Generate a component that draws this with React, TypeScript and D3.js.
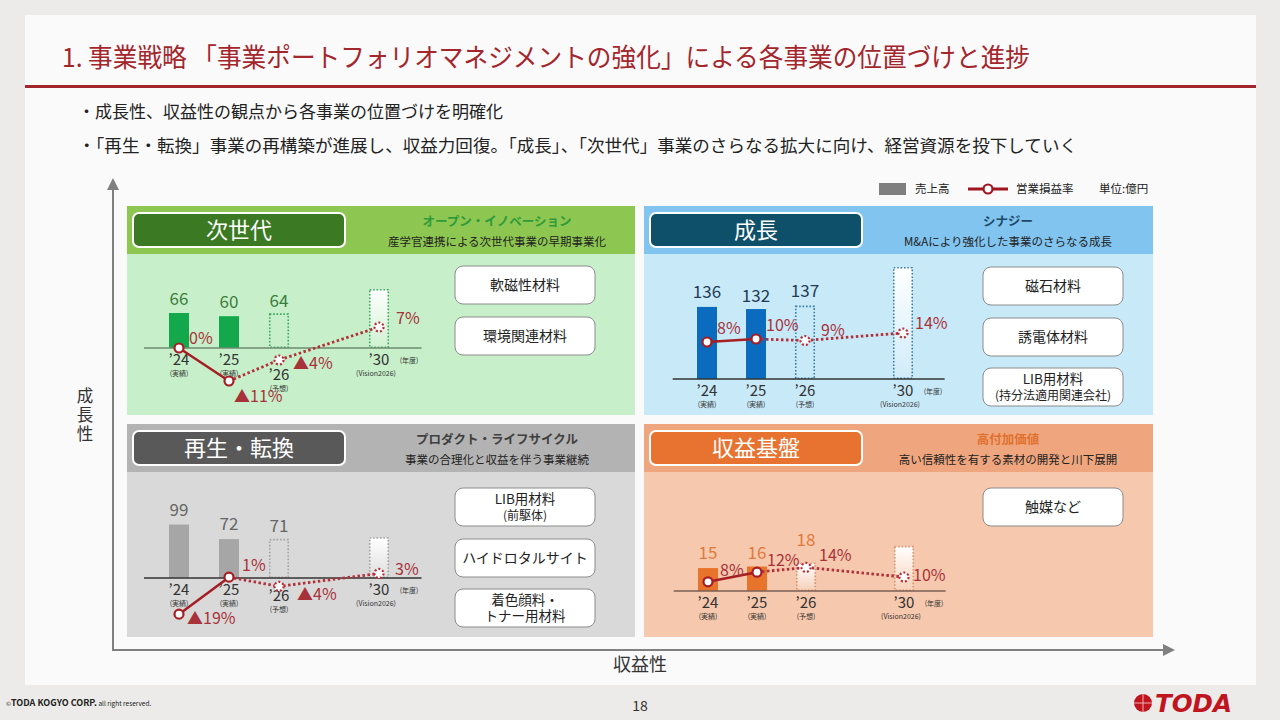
import React from 'react';
import * as d3 from 'd3';

const FONT = '"Noto Sans CJK JP", "Noto Sans", sans-serif';

// categories
const YEARS = ['’24', '’25', '’26', '’30'];
const YEAR_NOTES = ['(実績)', '(実績)', '(予想)', '(Vision2026)'];
const YEAR_SLOTS = [0, 1, 2, 4];

// 売上高 (億円) / 営業損益率 (%) ; '30 sales are unlabeled target bars
const NEXTGEN_SALES = [66, 60, 64, 110];
const NEXTGEN_RATES = [0, -11, -4, 7];
const GROWTH_SALES = [136, 132, 137, 210];
const GROWTH_RATES = [8, 10, 9, 14];
const REGEN_SALES = [99, 72, 71, 74];
const REGEN_RATES = [-19, 1, -4, 3];
const BASE_SALES = [15, 16, 18, 29];
const BASE_RATES = [8, 12, 14, 10];

const NEXTGEN_PRODUCTS = [['軟磁性材料'], ['環境関連材料']];
const GROWTH_PRODUCTS = [['磁石材料'], ['誘電体材料'], ['LIB用材料', '(持分法適用関連会社)']];
const REGEN_PRODUCTS = [['LIB用材料', '(前駆体)'], ['ハイドロタルサイト'], ['着色顔料・', 'トナー用材料']];
const BASE_PRODUCTS = [['触媒など']];

const panels = [
  {
    key: 'next', x: 127, y: 206, w: 508, h: 209,
    headerFill: '#8dc751', bodyFill: '#c7efc9', pillFill: '#3b7a23',
    title: '次世代', sub: 'オープン・イノベーション', subColor: '#2f9a3a',
    desc: '産学官連携による次世代事業の早期事業化',
    products: NEXTGEN_PRODUCTS, productTops: [266, 317],
    sales: NEXTGEN_SALES, rates: NEXTGEN_RATES,
    barFill: '#12a84b', dotColor: '#3aa860', valueColor: '#3c7d3c', baseColor: '#6f8a70',
    baseline: 348, firstX: 179, step: 50, salesPx: 0.53, rateZero: 348, ratePx: 3.0,
    labelOff: [[10, -4], [5, 21], [14, 9], [17, -3]],
    valueLift: [8, 8, 7], yearShift: [0, 0, 15, 0], fill26: false,
  },
  {
    key: 'growth', x: 644, y: 206, w: 509, h: 209,
    headerFill: '#80c4ef', bodyFill: '#c8e9f8', pillFill: '#0e4f69',
    title: '成長', sub: 'シナジー', subColor: '#1d4a68',
    desc: 'M&Aにより強化した事業のさらなる成長',
    products: GROWTH_PRODUCTS, productTops: [267, 318, 368],
    sales: GROWTH_SALES, rates: GROWTH_RATES,
    barFill: '#0b6bbf', dotColor: '#3a7fa3', valueColor: '#1f3b56', baseColor: '#333',
    baseline: 379, firstX: 707, step: 49, salesPx: 0.53, rateZero: 354, ratePx: 1.5,
    labelOff: [[10, -8], [10, -8], [16, -5], [12, -4]],
    valueLift: [9, 7, 9], yearShift: [0, 0, 0, 0], fill26: false,
  },
  {
    key: 'regen', x: 127, y: 424, w: 508, h: 213,
    headerFill: '#b3b3b3', bodyFill: '#d9d9d9', pillFill: '#595959',
    title: '再生・転換', sub: 'プロダクト・ライフサイクル', subColor: '#404040',
    desc: '事業の合理化と収益を伴う事業継続',
    products: REGEN_PRODUCTS, productTops: [488, 539, 589],
    sales: REGEN_SALES, rates: REGEN_RATES,
    barFill: '#a6a6a6', dotColor: '#a3a3a3', valueColor: '#666', baseColor: '#333',
    baseline: 578, firstX: 179, step: 50, salesPx: 0.54, rateZero: 579, ratePx: 1.85,
    labelOff: [[8, 10], [13, -6], [18, 14], [16, 2]],
    valueLift: [9, 9, 8], yearShift: [0, 0, 6, 0], fill26: false,
  },
  {
    key: 'base', x: 644, y: 424, w: 509, h: 213,
    headerFill: '#efa67e', bodyFill: '#f6c8ad', pillFill: '#e8722f',
    title: '収益基盤', sub: '高付加価値', subColor: '#e0702d',
    desc: '高い信頼性を有する素材の開発と川下展開',
    products: BASE_PRODUCTS, productTops: [488],
    sales: BASE_SALES, rates: BASE_RATES,
    barFill: '#e8742c', dotColor: '#d9926f', valueColor: '#e07a3c', baseColor: '#7a6055',
    baseline: 591, firstX: 708, step: 49, salesPx: 1.53, rateZero: 601, ratePx: 2.4,
    labelOff: [[12, -6], [10, -6], [13, -6], [9, 4]],
    valueLift: [9, 8, 17], yearShift: [0, 0, 0, 0], fill26: true,
  },
];

const RED = '#a51e24';
const LABEL_RED = '#a8323a';

const fmtRate = (v: number) => (v < 0 ? `▲${-v}%` : `${v}%`);

function Panel({ p }: { p: any }) {
  const xs = d3.scaleLinear().domain([0, 1]).range([p.firstX, p.firstX + p.step]);
  const ys = d3.scaleLinear().domain([0, 100]).range([p.baseline, p.baseline - 100 * p.salesPx]);
  const yr = d3.scaleLinear().domain([0, 10]).range([p.rateZero, p.rateZero - 10 * p.ratePx]);
  const barW = 20;
  const pts: [number, number][] = p.rates.map((r: number, i: number) => [xs(YEAR_SLOTS[i]), yr(r)]);
  const line = d3.line();
  const leftSide = p.x < 400;
  const prodX = p.x + (leftSide ? 328 : 339);
  const descCx = p.x + (leftSide ? 370 : 364);
  const gradId = `fade-${p.key}`;

  return (
    <g>
      <defs>
        <linearGradient id={gradId} x1="0" y1="0" x2="0" y2="1">
          <stop offset="0%" stopColor="#fff" stopOpacity={1} />
          <stop offset="100%" stopColor="#fff" stopOpacity={0.15} />
        </linearGradient>
      </defs>
      <rect x={p.x} y={p.y} width={p.w} height={p.h} fill={p.bodyFill} />
      <rect x={p.x} y={p.y} width={p.w} height={48} fill={p.headerFill} />
      <rect x={p.x + 6} y={p.y + 7} width={212} height={34} rx={6} fill={p.pillFill} stroke="#fff" strokeWidth={2} />
      <text x={p.x + 112} y={p.y + 32} textAnchor="middle" fill="#fff" fontSize={22} fontFamily={FONT}>{p.title}</text>
      <text x={descCx} y={p.y + 20} textAnchor="middle" fill={p.subColor} fontSize={12.5} fontWeight={700} fontFamily={FONT}>{p.sub}</text>
      <text x={descCx} y={p.y + 40} textAnchor="middle" fill="#222" fontSize={11.5} fontFamily={FONT}>{p.desc}</text>

      {p.products.map((lines: string[], i: number) => {
        const top = p.productTops[i];
        const cy = top + 19;
        return (
          <g key={i}>
            <rect x={prodX} y={top} width={140} height={38} rx={8} fill="#fff" stroke="#8c8c8c" strokeWidth={1} />
            {lines.length === 1 ? (
              <text x={prodX + 70} y={cy + 5} textAnchor="middle" fontSize={14} fill="#222" fontFamily={FONT}>{lines[0]}</text>
            ) : (
              <>
                <text x={prodX + 70} y={cy - 3} textAnchor="middle" fontSize={13.5} fill="#222" fontFamily={FONT}>{lines[0]}</text>
                <text x={prodX + 70} y={cy + 13} textAnchor="middle" fontSize={lines[1].startsWith('(') ? 12 : 13.5} fill="#222" fontFamily={FONT}>{lines[1]}</text>
              </>
            )}
          </g>
        );
      })}

      {/* bars */}
      {p.sales.map((v: number, i: number) => {
        const cx = xs(YEAR_SLOTS[i]);
        const top = ys(v);
        const h = p.baseline - top;
        if (i < 2) {
          return <rect key={i} x={cx - barW / 2} y={top} width={barW} height={h} fill={p.barFill} />;
        }
        const fill = i === 3 || p.fill26 ? `url(#${gradId})` : 'none';
        return (
          <rect key={i} x={cx - barW / 2 + 0.75} y={top} width={barW - 1.5} height={h - 0.75}
            fill={fill} stroke={p.dotColor} strokeWidth={1.6} strokeDasharray="1.6,1.8" />
        );
      })}
      {p.sales.slice(0, 3).map((v: number, i: number) => (
        <text key={i} x={xs(YEAR_SLOTS[i])} y={ys(v) - p.valueLift[i]} textAnchor="middle" fontSize={17}
          fill={p.valueColor} fontFamily={FONT}>{v}</text>
      ))}

      <line x1={xs(-0.7)} x2={xs(4.85)} y1={p.baseline} y2={p.baseline} stroke={p.baseColor} strokeWidth={1.5} />

      {/* year labels */}
      {YEARS.map((yl, i) => {
        const cx = xs(YEAR_SLOTS[i]);
        const by = p.baseline + 17 + p.yearShift[i];
        return (
          <g key={yl}>
            <text x={cx} y={by} textAnchor="middle" fontSize={15} fill="#333" fontFamily={FONT}>{yl}</text>
            <text x={i === 3 ? cx - 3 : cx} y={by + 11} textAnchor="middle" fontSize={7} fill="#333" fontFamily={FONT}>{YEAR_NOTES[i]}</text>
            {i === 3 && (
              <text x={cx + 30} y={by - 2} textAnchor="middle" fontSize={7} fill="#333" fontFamily={FONT}>(年度)</text>
            )}
          </g>
        );
      })}

      {/* operating margin line */}
      <path d={line(pts.slice(0, 2)) || ''} fill="none" stroke={RED} strokeWidth={2.5} />
      <path d={line(pts.slice(1)) || ''} fill="none" stroke="#b2303a" strokeWidth={2.8} strokeDasharray="2.5,2.5" />
      {pts.map(([px, py], i) => (
        <circle key={i} cx={px} cy={py} r={4.5} fill="#fff" stroke={i < 2 ? RED : '#b2303a'}
          strokeWidth={2.2} strokeDasharray={i < 2 ? undefined : '2,2'} />
      ))}
      {p.rates.map((r: number, i: number) => (
        <text key={i} x={pts[i][0] + p.labelOff[i][0]} y={pts[i][1] + p.labelOff[i][1]} fontSize={16}
          fill={LABEL_RED} fontFamily={FONT}>{fmtRate(r)}</text>
      ))}
    </g>
  );
}

export default function App() {
  return (
    <svg width={1280} height={720} viewBox="0 0 1280 720"
      style={{ position: 'absolute', left: 0, top: 0, display: 'block' }} fontFamily={FONT}>
      <rect width={1280} height={720} fill="#ecebe9" />
      <rect x={25} y={15} width={1231} height={670} fill="#fafafa" />

      <text x={62} y={67} fontSize={26} fill="#a3262d" textLength={968} lengthAdjust="spacingAndGlyphs">
        1. 事業戦略 「事業ポートフォリオマネジメントの強化」による各事業の位置づけと進捗
      </text>
      <rect x={25} y={85} width={1231} height={3} fill="#a3262d" />

      <text x={78} y={118} fontSize={17} fill="#222">・成長性、収益性の観点から各事業の位置づけを明確化</text>
      <text x={78} y={152} fontSize={17} fill="#222" textLength={999} lengthAdjust="spacingAndGlyphs">
        ・「再生・転換」事業の再構築が進展し、収益力回復。「成長」、「次世代」事業のさらなる拡大に向け、経営資源を投下していく
      </text>

      {/* legend */}
      <rect x={879} y={183} width={27} height={12} fill="#7f7f7f" />
      <text x={915} y={193} fontSize={11.5} fill="#222">売上高</text>
      <line x1={968} x2={1008} y1={189} y2={189} stroke="#a0141e" strokeWidth={3} />
      <circle cx={988} cy={189} r={4.5} fill="#fff" stroke="#a0141e" strokeWidth={2.2} />
      <text x={1016} y={193} fontSize={11.5} fill="#222">営業損益率</text>
      <text x={1099} y={193} fontSize={11.5} fill="#222">単位:億円</text>

      {/* axes */}
      <line x1={113} y1={650} x2={113} y2={188} stroke="#808080" strokeWidth={2} />
      <path d="M107,190 L113,178 L119,190 Z" fill="#808080" />
      <line x1={112} y1={650} x2={1165} y2={650} stroke="#808080" strokeWidth={2} />
      <path d="M1163,644 L1175,650 L1163,656 Z" fill="#808080" />
      <text x={85} y={402} fontSize={16.5} fill="#333" textAnchor="middle">成</text>
      <text x={85} y={421} fontSize={16.5} fill="#333" textAnchor="middle">長</text>
      <text x={85} y={440} fontSize={16.5} fill="#333" textAnchor="middle">性</text>
      <text x={640} y={671} fontSize={18} fill="#333" textAnchor="middle">収益性</text>

      {panels.map(p => <Panel key={p.key} p={p} />)}

      {/* footer */}
      <text x={6} y={706} fontSize={9} fill="#222">
        <tspan fontSize={6}>©</tspan>
        <tspan fontWeight={700}>TODA KOGYO CORP.</tspan>
        <tspan fontSize={6.5}> all right reserved.</tspan>
      </text>
      <text x={640} y={711} fontSize={14} fill="#333" textAnchor="middle">18</text>
      <circle cx={1143} cy={703} r={9} fill="#c0141e" />
      <line x1={1134} x2={1152} y1={703} y2={703} stroke="#f0b0b0" strokeWidth={1} />
      <line x1={1143} x2={1143} y1={694} y2={712} stroke="#f0b0b0" strokeWidth={1} />
      <text x={1155} y={712} fontSize={24} fontWeight={700} fontStyle="italic" fill="#c0141e"
        fontFamily='"DejaVu Sans", sans-serif' textLength={77} lengthAdjust="spacingAndGlyphs">TODA</text>
    </svg>
  );
}
